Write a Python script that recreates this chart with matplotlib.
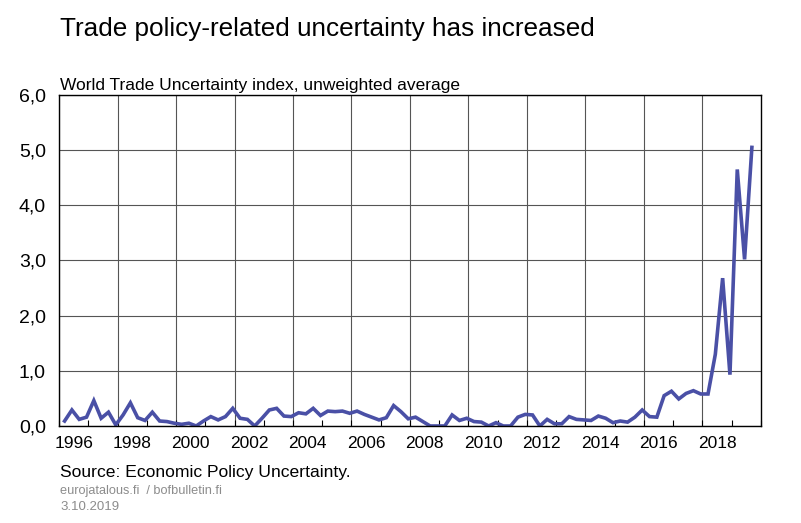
import matplotlib
matplotlib.use("Agg")
import matplotlib.pyplot as plt
import numpy as np

plt.rcParams["font.family"] = ["Liberation Sans", "DejaVu Sans"]

# World Trade Uncertainty index, quarterly from 1996Q1 to 2019Q3
start_year = 1996
wui = [
    0.09, 0.29, 0.12, 0.16,   # 1996
    0.46, 0.14, 0.25, 0.02,   # 1997
    0.20, 0.42, 0.15, 0.10,   # 1998
    0.25, 0.09, 0.08, 0.05,   # 1999
    0.03, 0.05, 0.00, 0.09,   # 2000
    0.17, 0.11, 0.17, 0.32,   # 2001
    0.14, 0.12, 0.00, 0.14,   # 2002
    0.29, 0.32, 0.18, 0.17,   # 2003
    0.24, 0.22, 0.32, 0.19,   # 2004
    0.27, 0.26, 0.27, 0.23,   # 2005
    0.27, 0.21, 0.16, 0.11,   # 2006
    0.15, 0.37, 0.26, 0.13,   # 2007
    0.16, 0.08, 0.00, 0.00,   # 2008
    0.00, 0.20, 0.10, 0.14,   # 2009
    0.08, 0.07, 0.00, 0.06,   # 2010
    0.00, 0.00, 0.16, 0.21,   # 2011
    0.20, 0.00, 0.12, 0.04,   # 2012
    0.04, 0.17, 0.12, 0.11,   # 2013
    0.10, 0.18, 0.14, 0.06,   # 2014
    0.09, 0.07, 0.16, 0.29,   # 2015
    0.17, 0.16, 0.55, 0.63,   # 2016
    0.49, 0.59, 0.64, 0.58,   # 2017
    0.58, 1.30, 2.68, 0.93,   # 2018
    4.65, 3.02, 5.05,         # 2019
]
year_labels = ["1996", "1998", "2000", "2002", "2004", "2006", "2008",
               "2010", "2012", "2014", "2016", "2018"]
y_labels = ["0,0", "1,0", "2,0", "3,0", "4,0", "5,0", "6,0"]

t = start_year + np.arange(len(wui)) / 4 + 0.19

fig = plt.figure(figsize=(8.01, 5.23), dpi=100)
ax = fig.add_axes([0.0737, 0.1855, 0.8763, 0.6329])

ax.plot(t, wui, color="#4a50a6", lw=2.6, solid_joinstyle="miter")

ax.set_xlim(1996, 2020)
ax.set_ylim(0, 6)

ax.set_yticks(range(7))
ax.set_yticklabels(y_labels)
ax.grid(axis="y", color="#555555", lw=0.8)
for lbl in year_labels:
    ax.axvline(int(lbl), color="#555555", lw=0.8, zorder=0)

ax.set_xticks([int(y) + 0.5 for y in year_labels])
ax.set_xticklabels(year_labels)
ax.set_xticks(range(1996, 2021), minor=True)
ax.tick_params(axis="x", which="major", length=0, pad=7, labelsize=12.5)
ax.tick_params(axis="x", which="minor", direction="in", length=4, width=0.8)
ax.tick_params(axis="y", length=0, pad=9.5, labelsize=14)
ax.set_axisbelow(True)
for s in ax.spines.values():
    s.set_linewidth(1.0)

fig.text(0.075, 0.945, "Trade policy-related uncertainty has increased",
         fontsize=18.8, va="center", ha="left")
fig.text(0.075, 0.836, "World Trade Uncertainty index, unweighted average",
         fontsize=12.5, va="center", ha="left")
fig.text(0.075, 0.097, "Source: Economic Policy Uncertainty.",
         fontsize=12.6, va="center", ha="left")
fig.text(0.075, 0.062, "eurojatalous.fi  / bofbulletin.fi",
         fontsize=9.2, va="center", ha="left", color="#8c8c8c")
fig.text(0.075, 0.031, "3.10.2019",
         fontsize=9.5, va="center", ha="left", color="#8c8c8c")

fig.savefig("out.png", dpi=100)
plt.close(fig)
